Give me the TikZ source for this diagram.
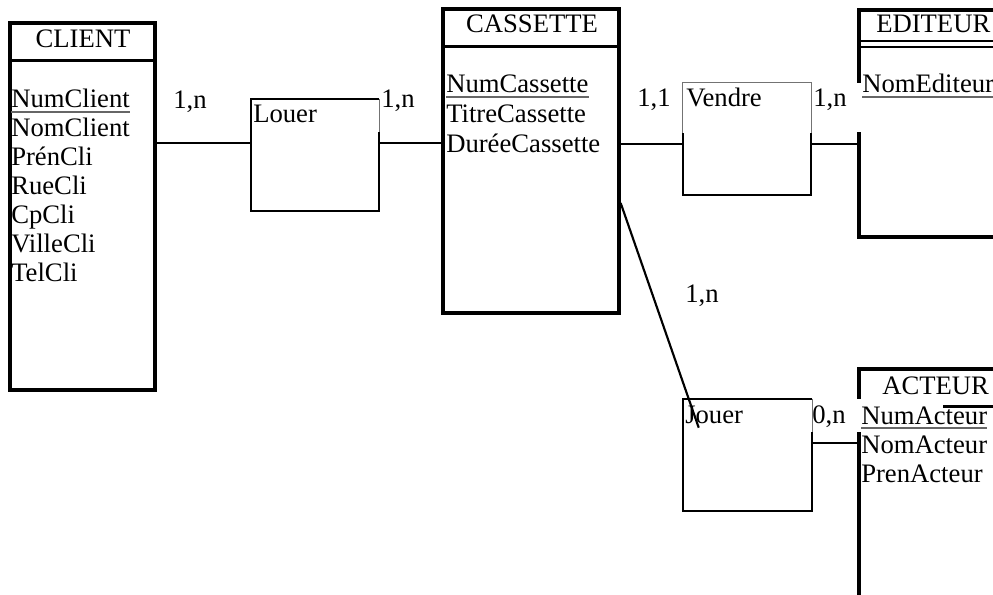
\documentclass[tikz,border=0pt]{standalone}
\usepackage{fontspec}
\setmainfont{Liberation Serif}
\usetikzlibrary{fit,calc}
\begin{document}
\begin{tikzpicture}[x=0.75pt,y=-0.75pt,
  txt/.style={inner sep=0pt, anchor=base west, font=\fontsize{20}{22}\selectfont},
  hdr/.style={inner sep=0pt, anchor=base, font=\fontsize{20}{22}\selectfont},
  entity/.style={draw, line width=2.5pt, inner sep=0pt},
  relbox/.style={inner sep=0pt},
  relline/.style={line width=1.6pt},
  faint/.style={line width=0.6pt, black!55},
  link/.style={line width=1.6pt},
  keyline/.style={line width=0.8pt, black!60},
  divider/.style={line width=2.5pt},
  patch/.style={fill=white, draw=none}]
\useasboundingbox (0,0) rectangle (993,595);
\clip (0,0) rectangle (993,595);

% ---------- entities ----------
\node[entity, fit={(10,23)(155,390)}] (client) {};
\draw[divider] ($(client.north west)+(0,39)$) -- ($(client.north east)+(0,39)$);

\node[entity, fit={(443,9)(619,313)}] (cassette) {};
\draw[divider] ($(cassette.north west)+(0,39)$) -- ($(cassette.north east)+(0,39)$);

\node[entity, fit={(859,10)(1010,237)}] (editeur) {};
\draw[relline] ($(editeur.north west)+(0,33)$) -- ($(editeur.north east)+(0,33)$);
\draw[relline] ($(editeur.north west)+(0,39)$) -- ($(editeur.north east)+(0,39)$);

\node[entity, fit={(859,369)(1010,620)}] (acteur) {};
\draw[divider] ($(acteur.north west)+(0,39)$) -- ($(acteur.north east)+(0,39)$);

% ---------- associations ----------
\node[relbox, fit={(251,99)(379,211)}] (louer) {};
\draw[relline] ($(louer.north east)+(0,33)$) -- (louer.south east) -- (louer.south west)
  -- (louer.north west) -- (louer.north east);
\draw[faint] (louer.north east) -- ++(0,33);

\node[relbox, fit={(683,83)(811,195)}] (vendre) {};
\draw[relline] ($(vendre.north east)+(0,50)$) -- (vendre.south east) -- (vendre.south west)
  -- ($(vendre.north west)+(0,50)$);
\draw[faint] ($(vendre.north west)+(0,50)$) -- (vendre.north west) -- (vendre.north east)
  -- ($(vendre.north east)+(0,50)$);

\node[relbox, fit={(683,399)(812,511)}] (jouer) {};
\draw[relline] ($(jouer.north east)+(0,33)$) -- (jouer.south east) -- (jouer.south west)
  -- (jouer.north west) -- (jouer.north east);
\draw[faint] (jouer.north east) -- ++(0,33);

% ---------- text boxes overlapping the borders ----------
\fill[patch] (855,83) rectangle (864,132);
\fill[patch] (855,399) rectangle (943,432);

% ---------- links ----------
\coordinate (ylouer) at (0,143);
\coordinate (yvendre) at (0,144);
\coordinate (yjouer) at (0,443);
\coordinate (ydiag) at (0,203);
\draw[link] (client.east |- ylouer) -- (louer.west |- ylouer);
\draw[link] (louer.east |- ylouer) -- (cassette.west |- ylouer);
\draw[link] (cassette.east |- yvendre) -- (vendre.west |- yvendre);
\draw[link] (vendre.east |- yvendre) -- (editeur.west |- yvendre);
\draw[link] (jouer.east |- yjouer) -- (acteur.west |- yjouer);

% ---------- entity texts ----------
\node[hdr] (clientT) at (83,48) {CLIENT};
\node[txt] (numclient) at (11,108) {NumClient};
\node[txt] (nomclient) at (11,137) {NomClient};
\node[txt] (prencli) at (11,166) {PrénCli};
\node[txt] (ruecli) at (11,195) {RueCli};
\node[txt] (cpcli) at (11,224) {CpCli};
\node[txt] (villecli) at (11,253) {VilleCli};
\node[txt] (telcli) at (11,282) {TelCli};

\node[hdr] (cassetteT) at (532,33) {CASSETTE};
\node[txt] (numcass) at (446,93) {NumCassette};
\node[txt] (titrecass) at (446,123) {TitreCassette};
\node[txt] (dureecass) at (446,153) {DuréeCassette};

\node[txt] (editeurT) at (876,33) {EDITEUR};
\node[txt] (nomedit) at (862,93) {NomEditeur};

\node[txt] (acteurT) at (882,395) {ACTEUR};
\node[txt] (numact) at (861,424) {NumActeur};
\node[txt] (nomact) at (861,453) {NomActeur};
\node[txt] (prenact) at (861,482) {PrenActeur};

% primary keys
\foreach \k in {numclient,numcass,nomedit,numact}
  \draw[keyline] ($(\k.base west)+(0,4)$) -- ($(\k.base east)+(0,4)$);

% ---------- association texts and cardinalities ----------
\node[txt] (louerT) at (253,123) {Louer};
\node[txt] (vendreT) at (686,107) {Vendre};
\node[txt] (jouerT) at (685,423) {Jouer};

\node[txt] (c1) at (173,109) {1,n};
\node[txt] (c2) at (381,108) {1,n};
\node[txt] (c3) at (637,107) {1,1};
\node[txt] (c4) at (813,107) {1,n};
\node[txt] (c5) at (685,303) {1,n};
\node[txt] (c6) at (812,423) {0,n};

% Jouer link drawn over its label
\draw[link] (cassette.east |- ydiag) -- ($(jouer.north west)+(16,29)$);
\end{tikzpicture}
\end{document}
